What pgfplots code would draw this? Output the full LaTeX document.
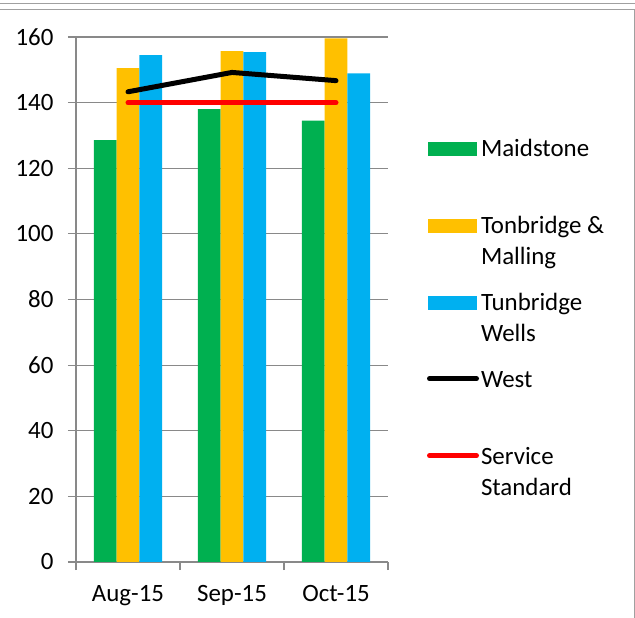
\documentclass[border=0pt]{standalone}
\usepackage{fontspec}
\setmainfont{Carlito}
\usepackage{pgfplots}
\pgfplotsset{compat=1.18}
\definecolor{cgreen}{HTML}{00B050}
\definecolor{corange}{HTML}{FFC000}
\definecolor{cblue}{HTML}{00B0F0}
\definecolor{cred}{HTML}{FF0000}
\definecolor{cgrid}{HTML}{898989}
\definecolor{cframe}{HTML}{A0A0A0}
\newcommand\twoline[2]{\renewcommand\arraystretch{1.04}\begin{tabular}[t]{@{}l@{}}#1\\#2\end{tabular}}
\pgfplotsset{
  barleg/.style={legend image code/.code={\fill[##1,draw=none] (1bp,0bp) rectangle (50bp,14bp);}},
  lineleg/.style={legend image code/.code={\draw[##1,line cap=round] (2.5bp,8.4bp) -- (49.5bp,8.4bp);}},
}
\begin{document}
\begin{tikzpicture}
\useasboundingbox (-76bp,-56bp) rectangle (559bp,562bp);
\begin{axis}[
  at={(0,0)}, anchor=south west,
  scale only axis, width=312bp, height=525bp,
  xmin=-0.5, xmax=2.5, ymin=0, ymax=160,
  axis lines*=left,
  axis line style={cgrid, line width=1.2bp, -},
  ytick={0,20,...,160},
  ymajorgrids, grid style={cgrid, line width=1.2bp},
  xtick={-0.5,0.5,1.5,2.5}, xticklabels={},
  extra x ticks={0,1,2}, extra x tick labels={Aug-15,Sep-15,Oct-15},
  extra x tick style={major tick length=0pt, grid=none},
  tick align=outside, major tick length=8bp,
  tick style={cgrid, line width=1.2bp},
  ticklabel style={font=\fontsize{25}{30}\selectfont},
  yticklabel style={xshift=-11bp},
  xticklabel style={yshift=-20bp},
  /pgf/number format/assume math mode=true,
  legend cell align=left,
  legend style={at={(1.125,0.8076)}, anchor=north west, draw=none, fill=none,
    inner sep=0pt, outer sep=0pt, row sep=0pt, column sep=2bp,
    font=\fontsize{25}{30}\selectfont,
    nodes={inner sep=0pt, text height=18bp, text depth=59bp},
    cells={anchor=base west}},
]
\addplot[ybar, bar width=0.218, bar shift=-0.218, fill=cgreen, draw=none, barleg]
  coordinates {(0,128.6) (1,138.0) (2,134.5)};
\addlegendentry{Maidstone}
\addplot[ybar, bar width=0.218, bar shift=0, fill=corange, draw=none, barleg]
  coordinates {(0,150.5) (1,155.7) (2,159.6)};
\addlegendentry{\twoline{Tonbridge \&}{Malling}}
\addplot[ybar, bar width=0.218, bar shift=0.218, fill=cblue, draw=none, barleg]
  coordinates {(0,154.5) (1,155.4) (2,148.9)};
\addlegendentry{\twoline{Tunbridge}{Wells}}
\addplot[sharp plot, black, line width=5bp, line cap=round, line join=round, mark=none, lineleg]
  coordinates {(0,143.3) (1,149.2) (2,146.7)};
\addlegendentry{West}
\addplot[sharp plot, cred, line width=5bp, line cap=round, mark=none, lineleg]
  coordinates {(0,140) (1,140) (2,140)};
\addlegendentry{\twoline{Service}{Standard}}
\end{axis}
\draw[cframe, line width=1.5bp] (-76bp,558.3bp) -- (559bp,558.3bp);
\draw[cframe, line width=1.5bp] (-76bp,552.3bp) -- (558.3bp,552.3bp) -- (558.3bp,-56bp);
\end{tikzpicture}
\end{document}
